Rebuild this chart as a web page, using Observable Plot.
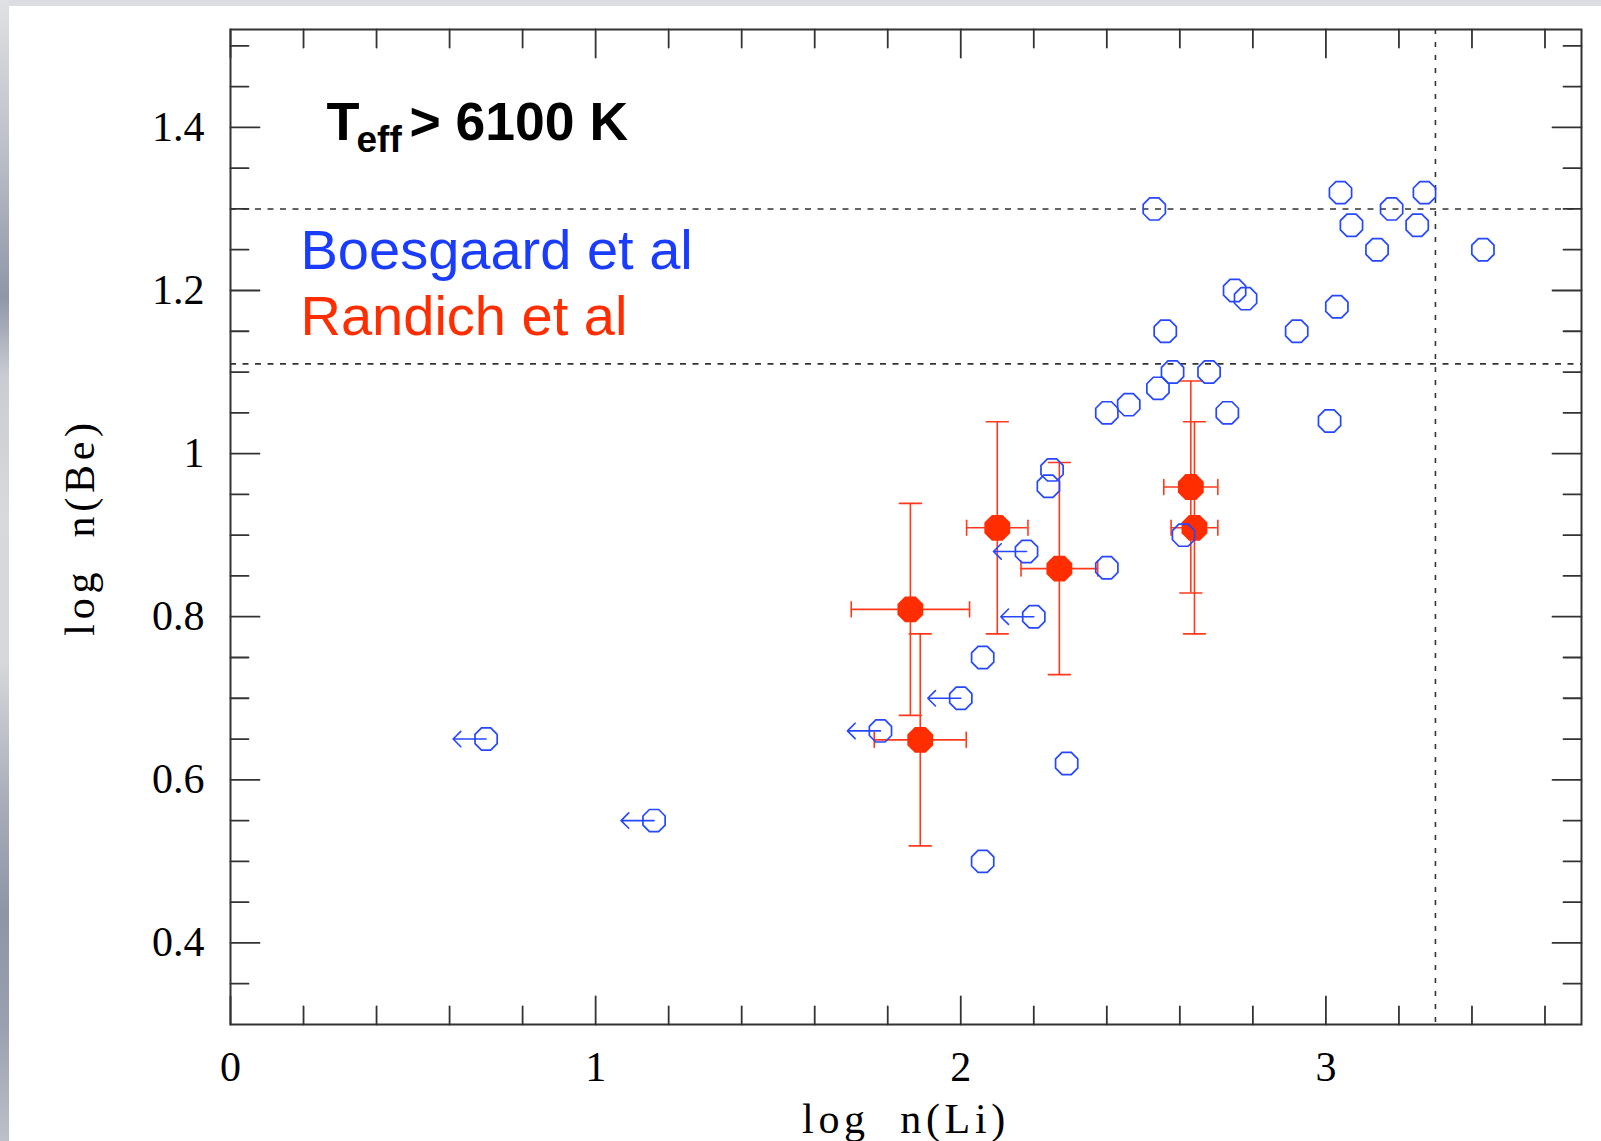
<!DOCTYPE html>
<html><head><meta charset="utf-8">
<script src="https://cdn.jsdelivr.net/npm/d3@7"></script>
<script src="https://cdn.jsdelivr.net/npm/@observablehq/plot@0.6"></script>
<style>
html,body{margin:0;padding:0;background:#fff;overflow:hidden;}
#wrap{position:relative;width:1601px;height:1141px;background:#fff;}
#topbar{position:absolute;left:0;top:0;width:1601px;height:6px;background:#dcdde0;z-index:2}
#leftbar{position:absolute;left:0;top:0;width:9px;height:1141px;z-index:3;
 background:linear-gradient(to bottom,#e0e1e4 0%,#b9bdc6 14%,#8f96a6 26%,#c9ccd2 33%,#d8d9dc 45%,#d6d8db 58%,#a9aeb9 70%,#8e95a5 80%,#9aa0ae 90%,#bcc0c8 100%);}
#chart{position:absolute;left:0;top:0;}
</style></head>
<body><div id="wrap"><div id="topbar"></div><div id="leftbar"></div><div id="chart"></div></div>
<script>
// ---- Boesgaard et al (detections)
const boesX = [2.53, 3.04, 3.27, 3.18, 3.07, 3.25, 3.14, 3.43, 2.75, 2.78, 3.03, 2.56, 2.92, 2.58, 2.68, 2.54, 2.46, 2.40, 2.73, 3.01, 2.25, 2.24, 2.61, 2.40, 2.06, 2.29, 2.06];
const boesY = [1.30, 1.32, 1.32, 1.30, 1.28, 1.28, 1.25, 1.25, 1.20, 1.19, 1.18, 1.15, 1.15, 1.10, 1.10, 1.08, 1.06, 1.05, 1.05, 1.04, 0.98, 0.96, 0.90, 0.86, 0.75, 0.62, 0.50];
// ---- Boesgaard et al (upper limits in Li)
const limX = [0.70, 1.16, 1.78, 2.00, 2.20, 2.18];
const limY = [0.65, 0.55, 0.66, 0.70, 0.80, 0.88];
// ---- Randich et al (with errors)
const randX = [1.862, 2.100, 2.270, 2.630, 2.640, 1.889];
const randY = [0.809, 0.909, 0.859, 0.959, 0.909, 0.649];
const randXErr = [0.162, 0.084, 0.105, 0.074, 0.064, 0.126];
const randYErr = [0.13, 0.13, 0.13, 0.13, 0.13, 0.13];
// ---- reference lines
const hLines = [1.30, 1.11];
const vLines = [3.30];
// ---- ticks and labels
const xMajorTicks = [0, 1, 2, 3];
const xTickLabels = ["0", "1", "2", "3"];
const xMinorTicks = [0.2, 0.4, 0.6, 0.8, 1.2, 1.4, 1.6, 1.8, 2.2, 2.4, 2.6, 2.8, 3.2, 3.4, 3.6];
const yMajorTicks = [0.4, 0.6, 0.8, 1.0, 1.2, 1.4];
const yTickLabels = ["0.4", "0.6", "0.8", "1", "1.2", "1.4"];
const yMinorTicks = [0.35, 0.45, 0.5, 0.55, 0.65, 0.7, 0.75, 0.85, 0.9, 0.95, 1.05, 1.1, 1.15, 1.25, 1.3, 1.35, 1.45, 1.5];
const xLabel = "log\u00a0\u00a0n(Li)";
const yLabel = "log\u00a0\u00a0n(Be)";
const titleMain = "T", titleSub = "eff", titleRest = "> 6100 K";
const legendNames = ["Boesgaard et al", "Randich et al"];

const boes = boesX.map((x, i) => ({x, y: boesY[i]}));
const lims = limX.map((x, i) => ({x, y: limY[i]}));
const rand = randX.map((x, i) => ({x, y: randY[i], xe: randXErr[i], ye: randYErr[i]}));

const blue = "#2447ff", textBlue = "#1a3cff", red = "#ff2d00", redBar = "#ff3a1c", ink = "#333";
const serif = "'Liberation Serif', 'DejaVu Serif', serif";
const sans = "'Liberation Sans', Arial, sans-serif";

const octagon = {
  draw(context, size) {
    const r = Math.sqrt(size / Math.PI);
    for (let i = 0; i < 8; i++) {
      const a = Math.PI / 8 + i * Math.PI / 4;
      const px = r * Math.cos(a), py = r * Math.sin(a);
      if (i === 0) context.moveTo(px, py); else context.lineTo(px, py);
    }
    context.closePath();
  }
};
const lineShape = {draw(context, l) { context.moveTo(0, 0); context.lineTo(0, -l); }};
const arrowShape = {draw(context, l) {
  const w = 7.7;
  context.moveTo(0, 0); context.lineTo(0, -l);
  context.moveTo(-w, w - l); context.lineTo(0, -l); context.lineTo(w, w - l);
}};

const tickStyle = {shape: lineShape, anchor: "start", stroke: ink, strokeWidth: 1.8};
const xFmt = d => xTickLabels[xMajorTicks.indexOf(d)];
const yFmt = d => yTickLabels[yMajorTicks.indexOf(d)];

const chart = Plot.plot({
  width: 1601,
  height: 1141,
  marginLeft: 230,
  marginRight: 20,
  marginTop: 29,
  marginBottom: 117,
  style: {background: "transparent", fontFamily: serif, fontSize: "42px", color: "black"},
  x: {domain: [0, 3.7]},
  y: {domain: [0.3, 1.52]},
  marks: [
    Plot.ruleY(hLines, {y: d => d, stroke: ink, strokeWidth: 1.6, strokeDasharray: "6,6.5"}),
    Plot.ruleX(vLines, {x: d => d, stroke: ink, strokeWidth: 1.6, strokeDasharray: "5,8"}),
    // Randich error bars
    Plot.ruleX(rand, {x: "x", y1: d => d.y - d.ye, y2: d => d.y + d.ye, stroke: redBar, strokeWidth: 1.6}),
    Plot.ruleY(rand, {y: "y", x1: d => d.x - d.xe, x2: d => d.x + d.xe, stroke: redBar, strokeWidth: 1.6}),
    Plot.vector(rand, {x: "x", y: d => d.y + d.ye, rotate: 90, length: 22, anchor: "middle", shape: lineShape, stroke: redBar, strokeWidth: 1.6}),
    Plot.vector(rand, {x: "x", y: d => d.y - d.ye, rotate: 90, length: 22, anchor: "middle", shape: lineShape, stroke: redBar, strokeWidth: 1.6}),
    Plot.vector(rand, {x: d => d.x - d.xe, y: "y", rotate: 0, length: 15, anchor: "middle", shape: lineShape, stroke: redBar, strokeWidth: 1.6}),
    Plot.vector(rand, {x: d => d.x + d.xe, y: "y", rotate: 0, length: 15, anchor: "middle", shape: lineShape, stroke: redBar, strokeWidth: 1.6}),
    Plot.dot(rand, {x: "x", y: "y", r: 14, symbol: octagon, fill: red, stroke: "none"}),
    // Boesgaard
    Plot.vector(lims, {x: "x", y: "y", rotate: -90, length: 33, anchor: "start", shape: arrowShape, stroke: blue, strokeWidth: 1.6}),
    Plot.dot(lims, {x: "x", y: "y", r: 12, symbol: octagon, fill: "none", stroke: blue, strokeWidth: 1.7}),
    Plot.dot(boes, {x: "x", y: "y", r: 12, symbol: octagon, fill: "none", stroke: blue, strokeWidth: 1.7}),
    // inward ticks on all four sides
    Plot.vector(xMajorTicks, {x: d => d, frameAnchor: "bottom", rotate: 0, length: 28, ...tickStyle}),
    Plot.vector(xMinorTicks, {x: d => d, frameAnchor: "bottom", rotate: 0, length: 18, ...tickStyle}),
    Plot.vector(xMajorTicks, {x: d => d, frameAnchor: "top", rotate: 180, length: 28, ...tickStyle}),
    Plot.vector(xMinorTicks, {x: d => d, frameAnchor: "top", rotate: 180, length: 18, ...tickStyle}),
    Plot.vector(yMajorTicks, {y: d => d, frameAnchor: "left", rotate: 90, length: 29, ...tickStyle}),
    Plot.vector(yMinorTicks, {y: d => d, frameAnchor: "left", rotate: 90, length: 18, ...tickStyle}),
    Plot.vector(yMajorTicks, {y: d => d, frameAnchor: "right", rotate: -90, length: 29, ...tickStyle}),
    Plot.vector(yMinorTicks, {y: d => d, frameAnchor: "right", rotate: -90, length: 18, ...tickStyle}),
    Plot.frame({stroke: ink, strokeWidth: 2}),
    Plot.axisX({ticks: xMajorTicks, tickFormat: xFmt, tickSize: 0, tickPadding: 27, fontSize: 42, fontFamily: serif, label: null}),
    Plot.axisY({ticks: yMajorTicks, tickFormat: yFmt, tickSize: 0, tickPadding: 26, fontSize: 42, fontFamily: serif, label: null}),
    Plot.text([xLabel], {text: d => d, frameAnchor: "bottom", dy: 108, lineAnchor: "bottom", textAnchor: "middle", fontSize: 42, fontFamily: serif, fill: "black", className: "axis-title"}),
    Plot.text([yLabel], {text: d => d, frameAnchor: "left", dx: -150, rotate: -90, lineAnchor: "middle", textAnchor: "middle", fontSize: 42, fontFamily: serif, fill: "black", className: "axis-title"}),
    // annotation
    Plot.text([titleMain], {text: d => d, frameAnchor: "top-left", dx: 96, dy: 110, lineAnchor: "bottom", textAnchor: "start", fontFamily: sans, fontWeight: "bold", fontSize: 54, fill: "black"}),
    Plot.text([titleSub], {text: d => d, frameAnchor: "top-left", dx: 126, dy: 122.4, lineAnchor: "bottom", textAnchor: "start", fontFamily: sans, fontWeight: "bold", fontSize: 37, fill: "black"}),
    Plot.text([titleRest], {text: d => d, frameAnchor: "top-left", dx: 179, dy: 110, lineAnchor: "bottom", textAnchor: "start", fontFamily: sans, fontWeight: "bold", fontSize: 53.5, fill: "black"}),
    Plot.text([legendNames[0]], {text: d => d, frameAnchor: "top-left", dx: 70, dy: 239, lineAnchor: "bottom", textAnchor: "start", fontFamily: sans, fontSize: 56, fill: textBlue}),
    Plot.text([legendNames[1]], {text: d => d, frameAnchor: "top-left", dx: 70, dy: 305.7, lineAnchor: "bottom", textAnchor: "start", fontFamily: sans, fontSize: 56, fill: red})
  ]
});
chart.querySelectorAll(".axis-title text").forEach(t => t.setAttribute("letter-spacing", "4.7"));
document.getElementById("chart").appendChild(chart);
</script>
</body></html>
